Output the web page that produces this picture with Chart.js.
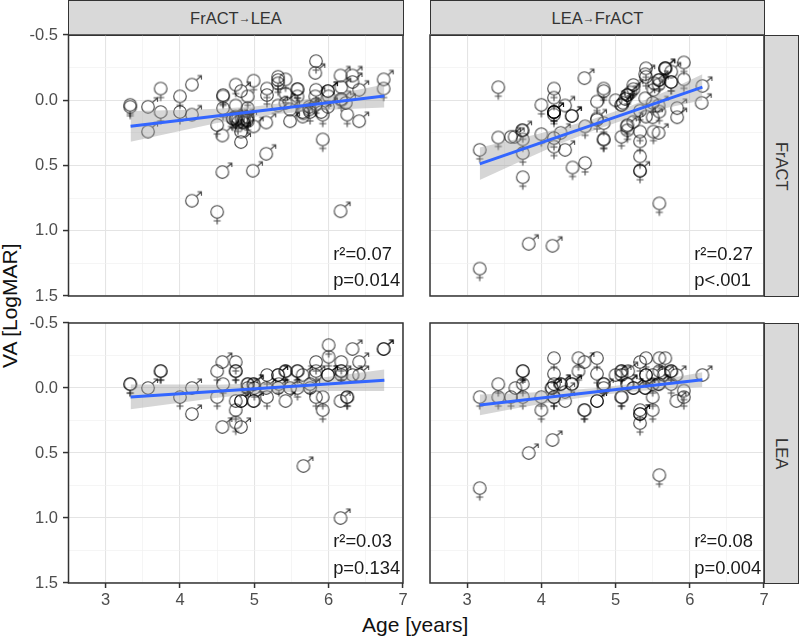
<!DOCTYPE html>
<html>
<head>
<meta charset="utf-8">
<title>VA by age</title>
<script src="https://cdn.jsdelivr.net/npm/chart.js@4"></script>
<style>
body { margin: 0; background: #fff; font-family: "Liberation Sans", Arial, sans-serif; width: 800px; height: 641px; position: relative; overflow: hidden; }
canvas { position: absolute; }
.strip { position: absolute; background: #d9d9d9; border: 1.4px solid #333; box-sizing: border-box; color: #333; font-size: 16.5px; display: flex; align-items: center; justify-content: center; }
.strip small { font-size: 12px; }
.side { writing-mode: vertical-rl; }
.title { position: absolute; color: #111; font-size: 21px; white-space: nowrap; }
</style>
</head>
<body>
<div class="strip" style="left:68px;top:0;width:336px;height:36px">FrACT<small>→</small>LEA</div>
<div class="strip" style="left:430px;top:0;width:335px;height:36px">LEA<small>→</small>FrACT</div>
<div class="strip side" style="left:764px;top:35px;width:35px;height:262px">FrACT</div>
<div class="strip side" style="left:764px;top:323px;width:35px;height:261px">LEA</div>
<div class="title" id="ylab" style="left:-50px;top:296px;width:120px;text-align:center;transform:rotate(-90deg)">VA [LogMAR]</div>
<div class="title" style="left:362px;top:613px">Age [years]</div>
<canvas id="c1" width="408" height="286" style="left:0;top:20px"></canvas>
<canvas id="c2" width="344" height="286" style="left:425px;top:20px"></canvas>
<canvas id="c3" width="408" height="300" style="left:0;top:308px"></canvas>
<canvas id="c4" width="344" height="300" style="left:425px;top:308px"></canvas>
<script>
// values, age in years, VA in logMAR
// repeated entries are overlapping children (they show up darker)

// top left FrACT->LEA / FrACT
const p1FemaleAge = [3.33,3.33,3.74,3.74,4.0,4.0,4.5,4.5,4.58,4.58,4.58,4.75,4.75,4.75,4.75,4.83,4.91,4.91,4.91,4.91,4.99,5.17,5.17,5.32,5.32,5.32,5.42,5.42,5.58,5.58,5.58,5.75,5.83,5.83,5.92,5.92,6.0,6.17,6.25,6.74,5.83,4.71,4.78];
const p1FemaleVA  = [0.035,0.05,-0.09,0.09,-0.03,0.09,0.19,0.855,-0.04,-0.03,0.06,-0.12,0.04,0.125,0.14,0.14,-0.03,0.06,0.13,0.16,-0.15,-0.09,-0.04,-0.18,-0.155,-0.13,-0.16,-0.05,-0.085,-0.085,-0.03,0.09,-0.30,-0.08,0.11,0.30,-0.03,-0.01,0.11,-0.09,0.03,0.14,0.17];
const p1MaleAge = [3.57,3.57,4.16,4.16,4.57,4.82,4.82,4.82,4.99,5.16,5.16,4.98,4.57,4.16,6.16,5.82,6.16,6.32,6.32,6.41,6.74,6.41,5.99,6.17,6.17,6.23,5.82,5.74,5.65,5.48,5.48,5.32,5.42,5.99,4.75,4.84,4.9,5.66,5.9,4.78,4.86,4.86,4.71,5.65,5.74,5.99];
const p1MaleVA  = [0.05,0.24,-0.12,0.11,0.27,0.32,0.24,-0.07,0.2,0.17,0.41,0.54,0.55,0.77,0.85,-0.21,-0.19,-0.19,-0.14,-0.08,-0.16,0.16,-0.07,-0.1,0,0.02,-0.03,0.05,0.125,0.16,0.07,0.04,0.02,0.05,0.15,0.17,0.15,0.1,0.09,0.14,0.14,0.17,0.14,0.09,0.07,-0.07];
const p1BandAge  = [3.335,4,4.5,5,5.4,6,6.75];
const p1BandLow  = [0.082,0.075,0.065,0.047,0.02,-0.037,-0.121];
const p1BandHigh = [0.318,0.235,0.175,0.127,0.10,0.073,0.055];
const p1LineAge = [3.335,6.75];
const p1LineVA  = [0.20,-0.033];

// top right LEA->FrACT / FrACT
const p2FemaleAge = [3.17,3.17,3.42,3.42,3.75,3.75,3.75,3.75,4.0,4.0,4.17,4.17,4.17,4.17,4.17,4.17,4.17,4.42,4.59,4.59,4.75,4.75,4.84,4.84,4.84,4.84,4.84,5.08,5.16,5.16,5.33,5.33,5.33,5.33,5.41,5.41,5.51,5.59,5.59,5.75,5.75,5.92,5.92,5.67,5.59,5.24,5.16,5.5,5.33];
const p2FemaleVA  = [0.38,1.29,-0.10,0.285,0.23,0.30,0.405,0.59,0.035,0.26,-0.09,-0.02,0.09,0.09,0.11,0.29,0.355,0.515,0.2,0.48,0.01,0.15,-0.09,-0.07,0.175,0.30,0.30,0.28,0.19,0.23,0.24,0.315,0.43,0.54,-0.245,-0.18,0.24,0.087,0.79,-0.14,-0.14,-0.29,-0.16,-0.245,-0.155,-0.117,-0.04,0.02,0.08];
const p2MaleAge = [4.58,3.83,4.15,6.17,6.16,5.83,5.83,5.58,4.32,4.26,4.32,4.41,4.41,3.59,3.64,3.74,4.17,4.17,5.33,5.41,5.24,5.15,5.08,5.08,5.0,5.16,5.24,5.58,5.75,5.67,5.67,5.40,5.51,4.75,5.5,5.58,5.1,5.13,5.2,5.4,5.58,5.52];
const p2MaleVA  = [-0.17,1.10,1.115,-0.11,0.02,0.06,0.13,0.25,0.38,0.25,0.04,0.12,0.12,0.28,0.28,0.23,0.09,0.09,0.54,0.125,0.165,0.2,0.035,0.035,0,-0.04,-0.085,-0.155,-0.22,-0.245,-0.245,-0.015,-0.08,0.14,0.13,0.04,0.02,-0.01,-0.06,-0.2,-0.12,-0.13];
const p2BandAge  = [3.17,3.7,4.2,4.7,5.2,5.7,6.17];
const p2BandLow  = [0.362,0.293,0.225,0.143,0.045,-0.073,-0.20];
const p2BandHigh = [0.612,0.473,0.345,0.233,0.135,0.057,0.0];
const p2LineAge = [3.17,6.17];
const p2LineVA  = [0.487,-0.10];

// bottom left FrACT->LEA / LEA
const p3FemaleAge = [3.33,3.33,3.74,3.74,4.0,4.5,4.5,4.58,4.75,4.75,4.75,4.75,4.75,4.91,4.91,5.17,5.17,5.42,5.42,5.58,5.58,5.58,5.83,5.83,5.83,5.92,5.92,6.0,6.0,6.17,6.17,6.17,6.25,6.25,5.75,5.0,5.33];
const p3FemaleVA  = [-0.03,-0.03,-0.13,-0.13,0.07,-0.13,0.07,-0.03,-0.2,-0.13,-0.13,0.17,0.265,-0.03,-0.03,0.07,-0.1,-0.13,-0.13,-0.13,-0.13,0.0,-0.2,-0.13,0.07,0.07,0.17,-0.33,-0.24,-0.2,-0.13,-0.13,0.07,0.07,-0.03,0.0,-0.03];
const p3MaleAge = [3.57,4.16,4.16,4.57,4.57,4.82,4.82,4.82,4.99,4.99,4.99,4.99,5.32,5.32,5.42,5.66,6.16,6.16,6.32,6.41,6.41,6.74,6.74,5.99,5.99,4.75,5.48,5.32,5.16,4.91,5.65,5.82,6.17,6.32,5.75];
const p3MaleVA  = [0,0,0.2,-0.2,0.3,0.1,0.1,0.3,0.1,0.1,-0.03,-0.03,-0.1,-0.1,0.1,0.6,1.0,0.1,-0.3,-0.2,-0.1,-0.3,-0.3,-0.1,-0.1,0.1,0,0,0,0,-0.1,-0.1,-0.1,-0.1,0];
const p3BandAge  = [3.335,4,4.5,5,5.4,6,6.75];
const p3BandLow  = [-0.027,-0.026,-0.025,-0.034,-0.049,-0.087,-0.143];
const p3BandHigh = [0.164,0.114,0.075,0.046,0.031,0.023,0.023];
const p3LineAge = [3.335,6.75];
const p3LineVA  = [0.0685,-0.06];

// bottom right LEA->FrACT / LEA
const p4FemaleAge = [3.17,3.17,3.42,3.42,3.59,3.75,3.75,3.75,3.75,4.0,4.0,4.17,4.17,4.17,4.17,4.17,4.5,4.5,4.58,4.58,4.75,4.75,4.84,4.84,5.08,5.08,5.08,5.08,5.33,5.33,5.33,5.41,5.41,5.41,5.5,5.5,5.5,5.59,5.59,5.59,5.67,5.75,5.75,5.92,5.92,5.75];
const p4FemaleVA  = [0.07,0.77,-0.03,0.07,0.07,-0.13,-0.13,-0.03,0.07,0.07,0.17,-0.23,-0.11,-0.03,0.07,0.07,-0.23,-0.13,0.17,0.17,-0.23,-0.11,-0.03,-0.03,-0.13,-0.13,0.07,0.07,0.27,0.17,-0.2,-0.23,-0.1,-0.1,0.07,0.17,-0.03,-0.23,-0.13,0.67,-0.23,-0.13,-0.13,0.02,0.07,-0.03];
const p4MaleAge = [3.65,3.83,4.15,4.32,4.26,4.26,4.14,4.14,4.41,4.41,4.58,4.75,4.75,5.33,5.33,5.16,5.16,5.24,5.24,5,5.08,5.17,5.4,5.4,5.58,5.58,5.82,5.82,6.17,4.84,4.32,5.65,5.5];
const p4MaleVA  = [0,0.5,0.4,0.1,-0.03,-0.03,0,0,-0.03,-0.03,-0.2,0.1,0.1,0.2,0.2,-0.03,-0.03,0,0,-0.1,-0.1,-0.13,0,0,-0.03,-0.03,0.1,-0.1,-0.1,0,0.03,-0.1,-0.1];
const p4BandAge  = [3.17,3.7,4.2,4.7,5.2,5.7,6.17];
const p4BandLow  = [0.05,0.041,0.023,0.001,-0.031,-0.074,-0.121];
const p4BandHigh = [0.21,0.151,0.103,0.061,0.029,0.006,-0.007];
const p4LineAge = [3.17,6.17];
const p4LineVA  = [0.13,-0.064];

const ageTicks = [3,4,5,6,7];
const vaTicks = [-0.5,0,0.5,1,1.5];

const markerColor = "rgba(0,0,0,0.7)";

// the two marker glyphs, circle centre is the data point
function makeMarker(male) {
    const c = document.createElement("canvas");
    c.width = 36;
    c.height = 40;
    const g = c.getContext("2d");
    g.strokeStyle = markerColor;
    g.lineWidth = 1.15;
    g.translate(18, 20);
    g.beginPath();
    g.arc(0, 0, 6.3, 0, Math.PI * 2);
    if (male) {
        g.moveTo(4.5, -4.5);
        g.lineTo(9.5, -9);
        g.moveTo(5.5, -9);
        g.lineTo(9.5, -9);
        g.lineTo(9.5, -5);
    } else {
        g.moveTo(0, 6.3);
        g.lineTo(0, 12.5);
        g.moveTo(-3.5, 9);
        g.lineTo(3.5, 9);
    }
    g.stroke();
    return c;
}
const femaleMarker = makeMarker(false);
const maleMarker = makeMarker(true);

function toPoints(xs, ys) {
    return xs.map((x, i) => ({ x: x, y: ys[i] }));
}

// panel border and the r2 / p text
const panelExtras = {
    id: "panelExtras",
    afterDatasetsDraw(chart, args, opts) {
        const g = chart.ctx;
        const a = chart.chartArea;
        g.save();
        g.fillStyle = "#1a1a1a";
        g.font = '18.4px "Liberation Sans"';
        g.fillText(opts.r2, chart.scales.x.getPixelForValue(6.06), chart.scales.y.getPixelForValue(1.222));
        g.fillText(opts.p, chart.scales.x.getPixelForValue(6.06), chart.scales.y.getPixelForValue(1.427));
        g.strokeStyle = "#333";
        g.lineWidth = 1.5;
        g.strokeRect(a.left, a.top, a.right - a.left, a.bottom - a.top);
        g.restore();
    }
};

// no extra room for the tick labels, panels have to line up exactly
function noPadding(s) {
    s.paddingLeft = 0;
    s.paddingRight = 0;
    s.paddingTop = 0;
    s.paddingBottom = 0;
}

function drawPanel(id, d, showX, showY, r2, p) {
    new Chart(id, {
        type: "scatter",
        data: {
            datasets: [
                { type: "line", data: toPoints(d.lineAge, d.lineVA), borderColor: "#3366ff", borderWidth: 3, pointRadius: 0, fill: false },
                { type: "line", data: toPoints(d.bandAge, d.bandLow), borderWidth: 0, pointRadius: 0, fill: "+1", backgroundColor: "rgba(153,153,153,0.4)" },
                { type: "line", data: toPoints(d.bandAge, d.bandHigh), borderWidth: 0, pointRadius: 0, fill: false },
                { data: toPoints(d.femaleAge, d.femaleVA), pointStyle: femaleMarker, pointRadius: 6 },
                { data: toPoints(d.maleAge, d.maleVA), pointStyle: maleMarker, pointRadius: 6 }
            ]
        },
        options: {
            responsive: false,
            animation: false,
            events: [],
            layout: { autoPadding: false, padding: { left: showY ? 0 : 5, right: 5, top: 15, bottom: showX ? 0 : 10 } },
            plugins: { legend: { display: false }, tooltip: { enabled: false }, panelExtras: { r2: r2, p: p } },
            scales: {
                x: {
                    type: "linear",
                    min: 2.5,
                    max: 7,
                    afterFit: s => { s.height = showX ? 25 : 0; noPadding(s); },
                    border: { display: false },
                    grid: {
                        color: c => ageTicks.includes(c.tick.value) ? "#e4e4e4" : "#f0f0f0",
                        lineWidth: c => ageTicks.includes(c.tick.value) ? 1.1 : 0.7,
                        tickColor: c => ageTicks.includes(c.tick.value) ? "#333" : "transparent",
                        tickWidth: 1.5,
                        drawTicks: showX,
                        tickLength: 5
                    },
                    ticks: {
                        display: showX,
                        stepSize: 0.5,
                        autoSkip: false,
                        maxRotation: 0,
                        padding: 3,
                        color: "#4d4d4d",
                        font: { family: "Liberation Sans", size: 16.5 },
                        callback: v => ageTicks.includes(v) ? String(v) : ""
                    }
                },
                y: {
                    type: "linear",
                    reverse: true,
                    min: -0.5,
                    max: 1.5,
                    afterFit: s => { s.width = showY ? 68.5 : 0; noPadding(s); },
                    border: { display: false },
                    grid: {
                        color: c => vaTicks.includes(c.tick.value) ? "#e4e4e4" : "#f0f0f0",
                        lineWidth: c => vaTicks.includes(c.tick.value) ? 1.1 : 0.7,
                        tickColor: c => vaTicks.includes(c.tick.value) ? "#333" : "transparent",
                        tickWidth: 1.5,
                        drawTicks: showY,
                        tickLength: 5.5
                    },
                    ticks: {
                        display: showY,
                        stepSize: 0.25,
                        autoSkip: false,
                        padding: 5,
                        color: "#4d4d4d",
                        font: { family: "Liberation Sans", size: 16.5 },
                        callback: v => vaTicks.includes(v) ? v.toFixed(1) : ""
                    }
                }
            }
        },
        plugins: [panelExtras]
    });
}

drawPanel("c1", { femaleAge: p1FemaleAge, femaleVA: p1FemaleVA, maleAge: p1MaleAge, maleVA: p1MaleVA, bandAge: p1BandAge, bandLow: p1BandLow, bandHigh: p1BandHigh, lineAge: p1LineAge, lineVA: p1LineVA }, false, true, "r²=0.07", "p=0.014");
drawPanel("c2", { femaleAge: p2FemaleAge, femaleVA: p2FemaleVA, maleAge: p2MaleAge, maleVA: p2MaleVA, bandAge: p2BandAge, bandLow: p2BandLow, bandHigh: p2BandHigh, lineAge: p2LineAge, lineVA: p2LineVA }, false, false, "r²=0.27", "p<.001");
drawPanel("c3", { femaleAge: p3FemaleAge, femaleVA: p3FemaleVA, maleAge: p3MaleAge, maleVA: p3MaleVA, bandAge: p3BandAge, bandLow: p3BandLow, bandHigh: p3BandHigh, lineAge: p3LineAge, lineVA: p3LineVA }, true, true, "r²=0.03", "p=0.134");
drawPanel("c4", { femaleAge: p4FemaleAge, femaleVA: p4FemaleVA, maleAge: p4MaleAge, maleVA: p4MaleVA, bandAge: p4BandAge, bandLow: p4BandLow, bandHigh: p4BandHigh, lineAge: p4LineAge, lineVA: p4LineVA }, true, false, "r²=0.08", "p=0.004");
</script>
</body>
</html>
